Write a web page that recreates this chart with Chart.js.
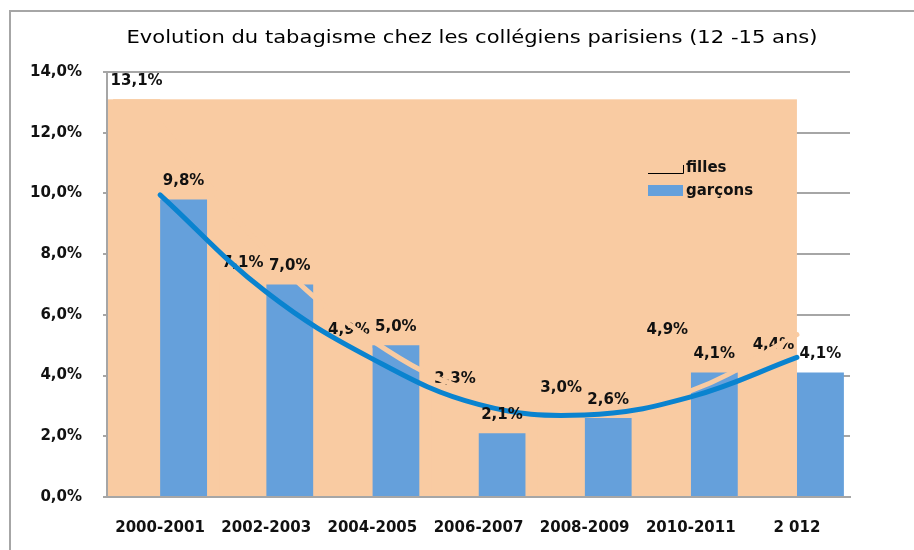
<!DOCTYPE html>
<html><head><meta charset="utf-8">
<script src="https://cdn.jsdelivr.net/npm/chart.js@4.4.1/dist/chart.umd.min.js"></script>
<style>html,body{margin:0;padding:0;background:#fff;overflow:hidden}#wrap{width:914px;height:550px;position:relative}</style>
</head><body><div id="wrap"><canvas id="c" width="914" height="550"></canvas></div>
<script>
const categories = ['2000-2001', '2002-2003', '2004-2005', '2006-2007', '2008-2009', '2010-2011', '2 012'];
const filles = [13.1, 7.1, 4.9, 3.3, 3.0, 4.9, 4.4];
const garcons = [9.8, 7.0, 5.0, 2.1, 2.6, 4.1, 4.1];
const tendanceGarcons = [9.95, 6.75, 4.55, 3.05, 2.7, 3.3, 4.6];
const tendanceFilles = [12.3, 8.1, 5.15, 3.4, 2.85, 3.5, 5.35];
const yTickValues = [0, 2, 4, 6, 8, 10, 12, 14];
const titleText = 'Evolution du tabagisme chez les collégiens parisiens (12 -15 ans)';
const seriesNames = ['filles', 'garçons'];

const PEACH = '#F9CBA2';
const BLUE_BAR = '#65A0DB';
const BLUE_LINE = '#0A83CF';
const GRID = '#A6A6A6';
const TXT = '#111111';
const fmt = v => v.toFixed(1).replace('.', ',') + '%';

Chart.defaults.font.family = '"DejaVu Sans", Verdana, sans-serif';
Chart.defaults.color = TXT;

function stretchedText(ctx, text, cx, cy, targetWidth) {
  const w = ctx.measureText(text).width;
  ctx.save();
  ctx.translate(cx, cy);
  ctx.scale(targetWidth / w, 1);
  ctx.fillText(text, 0, 0);
  ctx.restore();
}

function drawLabels(chart, di) {
  const ctx = chart.ctx;
  ctx.save();
  ctx.font = 'bold 15px "DejaVu Sans"';
  ctx.fillStyle = TXT;
  ctx.textAlign = 'center'; ctx.textBaseline = 'middle';
  const meta = chart.getDatasetMeta(di);
  const vals = chart.data.datasets[di].data;
  meta.data.forEach((el, i) => {
    ctx.fillText(fmt(vals[i]), el.x, el.y - 18);
  });
  ctx.restore();
}

const decor = {
  id: 'decor',
  beforeDraw(chart) {
    const ctx = chart.ctx;
    ctx.save();
    ctx.strokeStyle = GRID; ctx.lineWidth = 2;
    ctx.strokeRect(10, 11, 1000, 1000);
    ctx.fillStyle = '#000';
    ctx.font = '18px "DejaVu Sans", sans-serif';
    ctx.textAlign = 'center'; ctx.textBaseline = 'middle';
    stretchedText(ctx, titleText, 472, 38, 691);
    ctx.restore();
  },
  beforeDatasetsDraw(chart) {
    const { ctx, chartArea, scales: { x, y } } = chart;
    ctx.save();
    const top = y.getPixelForValue(Math.max(...filles));
    const right = x.getPixelForValue(categories.length - 1);
    const bottom = y.getPixelForValue(0) - 1;
    ctx.fillStyle = PEACH;
    ctx.fillRect(chartArea.left + 1, top, right - chartArea.left - 1, bottom - top);
    ctx.restore();
    drawLabels(chart, 0);
  },
  afterDatasetsDraw(chart) {
    drawLabels(chart, 1);
  },
  afterDraw(chart) {
    const ctx = chart.ctx;
    ctx.save();
    ctx.strokeStyle = '#000'; ctx.lineWidth = 1;
    ctx.beginPath();
    ctx.moveTo(648, 173.5); ctx.lineTo(683.5, 173.5); ctx.lineTo(683.5, 165);
    ctx.stroke();
    ctx.fillStyle = BLUE_BAR;
    ctx.fillRect(648, 185, 35, 11);
    ctx.fillStyle = TXT;
    ctx.font = 'bold 15px "DejaVu Sans"';
    ctx.textAlign = 'left'; ctx.textBaseline = 'middle';
    ctx.fillText(chart.data.datasets[0].label, 686, 168);
    ctx.fillText(chart.data.datasets[1].label, 686, 191);
    ctx.restore();
  }
};

new Chart(document.getElementById('c'), {
  data: {
    labels: categories,
    datasets: [
      { type: 'bar', label: seriesNames[0], data: filles, backgroundColor: PEACH, order: 3,
        categoryPercentage: 0.885, barPercentage: 1.0 },
      { type: 'bar', label: seriesNames[1], data: garcons, backgroundColor: BLUE_BAR, order: 4,
        categoryPercentage: 0.885, barPercentage: 1.0 },
      { type: 'line', label: 'tendance filles', data: tendanceFilles, borderColor: PEACH, borderWidth: 5,
        pointRadius: 0, tension: 0.4, borderCapStyle: 'round', order: 2 },
      { type: 'line', label: 'tendance garçons', data: tendanceGarcons, borderColor: BLUE_LINE, borderWidth: 5,
        pointRadius: 0, tension: 0.4, borderCapStyle: 'round', order: 1 }
    ]
  },
  options: {
    responsive: false,
    animation: false,
    layout: { padding: { left: 0, right: 64, top: 72, bottom: 0 } },
    plugins: { legend: { display: false }, title: { display: false }, tooltip: { enabled: false } },
    scales: {
      x: {
        grid: { display: false },
        border: { display: true, color: GRID, width: 2 },
        ticks: { font: { size: 15, weight: 'bold' }, color: TXT, padding: 14, maxRotation: 0 },
        afterFit: s => { s.height = 53; }
      },
      y: {
        min: 0, max: 14,
        afterBuildTicks: s => { s.ticks = yTickValues.map(v => ({ value: v })); },
        grid: { color: GRID, lineWidth: 2, tickLength: 4, drawTicks: true },
        border: { display: true, color: GRID, width: 2 },
        ticks: { font: { size: 15, weight: 'bold' }, color: TXT, padding: 21, callback: v => fmt(v) },
        afterFit: s => { s.width = 107; }
      }
    }
  },
  plugins: [decor]
});
</script></body></html>
